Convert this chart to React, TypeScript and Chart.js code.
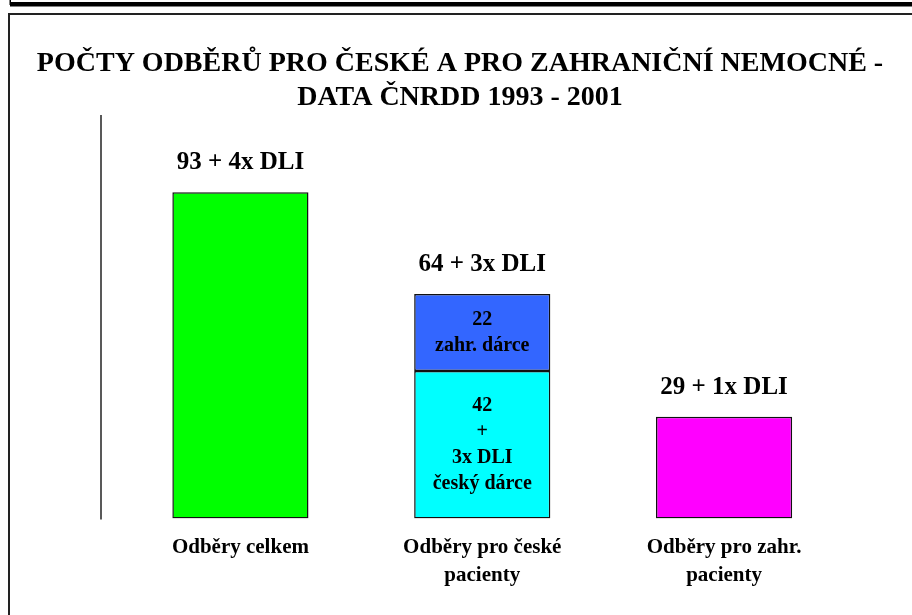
import React, { useEffect, useRef } from "react";
import { Chart, registerables } from "chart.js";

Chart.register(...registerables);

const titleLines = [
  "POČTY ODBĚRŮ PRO ČESKÉ A PRO ZAHRANIČNÍ NEMOCNÉ -",
  "DATA ČNRDD 1993 - 2001",
];
const categories = [
  ["Odběry celkem"],
  ["Odběry pro české", "pacienty"],
  ["Odběry pro zahr.", "pacienty"],
];
const totalValues = [93, null, null];
const czechDonorValues = [null, 42, null];
const foreignDonorValues = [null, 22, null];
const foreignPatientValues = [null, null, 29];
const topLabels = ["93 + 4x DLI", "64 + 3x DLI", "29 + 1x DLI"];
const czechDonorText = ["42", "+", "3x DLI", "český dárce"];
const foreignDonorText = ["22", "zahr. dárce"];

const FONT = "'Liberation Serif', 'Times New Roman', serif";

const framePlugin = {
  id: "frame",
  beforeDraw(chart: any) {
    const { ctx, width, height } = chart;
    ctx.save();
    ctx.fillStyle = "#ffffff";
    ctx.fillRect(0, 0, width, height);
    ctx.fillStyle = "#000000";
    ctx.fillRect(10, 2, width - 10, 4.5);
    ctx.fillRect(9.5, 0, 1.5, 5);
    ctx.strokeStyle = "#222222";
    ctx.lineWidth = 2;
    ctx.beginPath();
    ctx.moveTo(9, height);
    ctx.lineTo(9, 14);
    ctx.lineTo(width, 14);
    ctx.stroke();
    ctx.restore();
  },
  afterDatasetsDraw(chart: any) {
    const { ctx, chartArea, scales } = chart;
    const xs = scales.x;
    const ys = scales.y;
    ctx.save();
    // vertical axis line
    ctx.strokeStyle = "#222222";
    ctx.lineWidth = 1.5;
    ctx.beginPath();
    ctx.moveTo(101, chartArea.top);
    ctx.lineTo(101, chartArea.bottom + 1);
    ctx.stroke();

    // labels above bars
    ctx.fillStyle = "#000000";
    ctx.textAlign = "center";
    ctx.textBaseline = "alphabetic";
    ctx.font = `bold 25px ${FONT}`;
    topLabels.forEach((lab, i) => {
      let sum = 0;
      chart.data.datasets.forEach((ds: any) => {
        const v = ds.data[i];
        if (v != null) sum += v;
      });
      const x = xs.getPixelForValue(i);
      const y = ys.getPixelForValue(sum) - 23;
      ctx.fillText(lab, x, y);
    });

    // labels inside stacked segments
    ctx.font = `bold 20px ${FONT}`;
    ctx.textBaseline = "middle";
    const inner = [
      { ds: 1, idx: 1, lines: czechDonorText },
      { ds: 2, idx: 1, lines: foreignDonorText },
    ];
    inner.forEach((it) => {
      const el = chart.getDatasetMeta(it.ds).data[it.idx] as any;
      const cy = (el.y + el.base) / 2;
      const lh = 26;
      const start = cy - ((it.lines.length - 1) * lh) / 2;
      it.lines.forEach((t, k) => ctx.fillText(t, el.x, start + k * lh));
    });
    ctx.restore();
  },
};

export default function App() {
  const ref = useRef<HTMLCanvasElement | null>(null);
  useEffect(() => {
    if (!ref.current) return;
    const barStyle = {
      borderColor: "#111111",
      borderWidth: 1.5,
      borderSkipped: false,
      barPercentage: 0.563,
      categoryPercentage: 1,
    };
    const chart = new Chart(ref.current, {
      type: "bar",
      data: {
        labels: categories,
        datasets: [
          { label: "Odběry celkem", data: totalValues, backgroundColor: "#00ff00", ...barStyle },
          { label: "český dárce", data: czechDonorValues, backgroundColor: "#00ffff", ...barStyle },
          { label: "zahr. dárce", data: foreignDonorValues, backgroundColor: "#3366ff", ...barStyle },
          { label: "zahr. pacienti", data: foreignPatientValues, backgroundColor: "#ff00ff", ...barStyle },
        ],
      } as any,
      options: {
        responsive: false,
        animation: false,
        layout: { padding: { left: 8, right: 0, top: 47, bottom: 10 } },
        plugins: {
          legend: { display: false },
          tooltip: { enabled: false },
          title: {
            display: true,
            text: titleLines,
            color: "#000000",
            font: { family: FONT, size: 28, weight: "bold", lineHeight: 1.214 },
            padding: { top: 0, bottom: 0 },
          },
        },
        scales: {
          x: {
            stacked: true,
            grid: { display: false, drawTicks: false },
            border: { display: false },
            ticks: {
              color: "#000000",
              font: { family: FONT, size: 21, weight: "bold", lineHeight: 1.3 },
              padding: 16,
              maxRotation: 0,
              autoSkip: false,
            },
          },
          y: {
            stacked: true,
            min: 0,
            max: 115,
            position: "left",
            grid: { display: false, drawTicks: false },
            border: { display: false },
            ticks: { display: false },
            afterFit(scale: any) {
              scale.width = 111.5;
            },
          },
          y2: {
            position: "right",
            min: 0,
            max: 115,
            grid: { display: false, drawTicks: false },
            border: { display: false },
            ticks: { display: false },
            afterFit(scale: any) {
              scale.width = 67;
            },
          },
        },
      } as any,
      plugins: [framePlugin],
    });
    return () => chart.destroy();
  }, []);
  return (
    <div style={{ position: "fixed", left: 0, top: 0, width: 912, height: 615 }}>
      <canvas ref={ref} width={912} height={615} style={{ display: "block" }} />
    </div>
  );
}
